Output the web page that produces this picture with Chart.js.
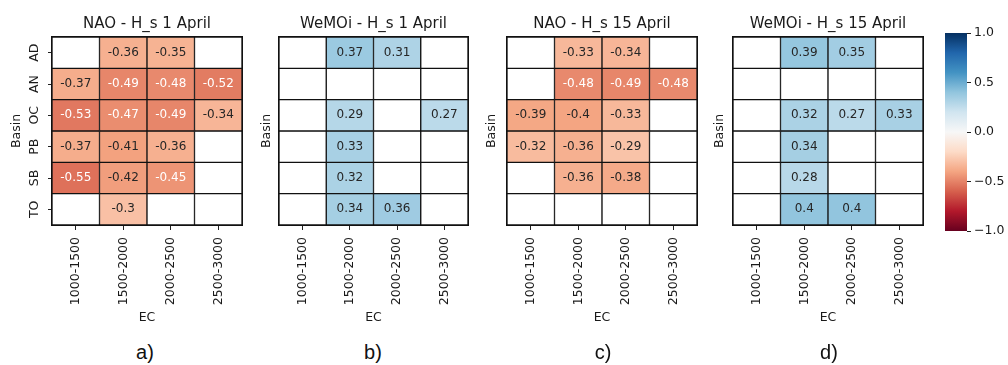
<!DOCTYPE html>
<html>
<head>
<meta charset="utf-8">
<script src="https://cdn.jsdelivr.net/npm/chart.js@4.4.1/dist/chart.umd.min.js"></script>
<style>
  body { margin: 0; background: #fff; width: 1008px; height: 365px; position: relative; overflow: hidden; }
  canvas { position: absolute; top: 0; }
  .tag { position: absolute; top: 341px; font: 20px "Liberation Sans", Arial, sans-serif; line-height: 22px; color: #111; transform: translateX(-50%); }
</style>
</head>
<body>
<canvas id="pa" width="250" height="330" style="left:0px"></canvas>
<canvas id="pb" width="226" height="330" style="left:250px"></canvas>
<canvas id="pc" width="230" height="330" style="left:475px"></canvas>
<canvas id="pd" width="228" height="330" style="left:703px"></canvas>
<canvas id="cb" width="73" height="330" style="left:935px"></canvas>
<div class="tag" style="left:145px">a)</div>
<div class="tag" style="left:373px">b)</div>
<div class="tag" style="left:603px">c)</div>
<div class="tag" style="left:829px">d)</div>
<script>
const basins = ['AD', 'AN', 'OC', 'PB', 'SB', 'TO'];
const ecBands = ['1000-1500', '1500-2000', '2000-2500', '2500-3000'];

// correlations, rows = basins, cols = EC bands (null = blank cell)
const naoApr1 = [
  [null, -0.36, -0.35, null],
  [-0.37, -0.49, -0.48, -0.52],
  [-0.53, -0.47, -0.49, -0.34],
  [-0.37, -0.41, -0.36, null],
  [-0.55, -0.42, -0.45, null],
  [null, -0.3, null, null]
];
const wemoiApr1 = [
  [null, 0.37, 0.31, null],
  [null, null, null, null],
  [null, 0.29, null, 0.27],
  [null, 0.33, null, null],
  [null, 0.32, null, null],
  [null, 0.34, 0.36, null]
];
const naoApr15 = [
  [null, -0.33, -0.34, null],
  [null, -0.48, -0.49, -0.48],
  [-0.39, -0.4, -0.33, null],
  [-0.32, -0.36, -0.29, null],
  [null, -0.36, -0.38, null],
  [null, null, null, null]
];
const wemoiApr15 = [
  [null, 0.39, 0.35, null],
  [null, null, null, null],
  [null, 0.32, 0.27, 0.33],
  [null, 0.34, null, null],
  [null, 0.28, null, null],
  [null, 0.4, 0.4, null]
];
const cbarTicks = [-1, -0.5, 0, 0.5, 1];

// RdBu stops, low end red
const rdbu = [[103,0,31],[178,24,43],[214,96,77],[244,165,130],[253,219,199],[247,247,247],
              [209,229,240],[146,197,222],[67,147,195],[33,102,172],[5,48,97]];

function cmap(v) {
  const t = Math.min(Math.max((v + 1) / 2, 0), 1) * (rdbu.length - 1);
  const i = Math.min(Math.floor(t), rdbu.length - 2);
  const f = t - i;
  return rdbu[i].map((c, k) => Math.round(c + (rdbu[i + 1][k] - c) * f));
}
const rgb = c => `rgb(${c[0]},${c[1]},${c[2]})`;
function lum(c) {
  const l = c.map(x => { x /= 255; return x <= 0.03928 ? x / 12.92 : Math.pow((x + 0.055) / 1.055, 2.4); });
  return 0.2126 * l[0] + 0.7152 * l[1] + 0.0722 * l[2];
}

const FONT = 'DejaVu Sans';
const INK = '#1a1a1a';
const EDGE = '#111';
Chart.defaults.font.family = FONT;
Chart.defaults.font.size = 12.5;
Chart.defaults.color = INK;

// writes the value in the middle of every filled cell
const cellLabels = {
  id: 'cellLabels',
  afterDatasetsDraw(chart, args, opts) {
    const ctx = chart.ctx;
    ctx.save();
    ctx.font = `12px "${FONT}"`;
    ctx.textAlign = 'center';
    ctx.textBaseline = 'middle';
    chart.data.datasets.forEach((ds, r) => {
      chart.getDatasetMeta(r).data.forEach((bar, c) => {
        const v = opts.values[r][c];
        if (v === null) return;
        ctx.fillStyle = lum(cmap(v)) > 0.408 ? '#262626' : '#ffffff';
        ctx.fillText(String(v), bar.x, (bar.y + bar.base) / 2);
      });
    });
    ctx.restore();
  }
};

// bare axis that only contributes a frame line on one side
const frameAxis = (position, axis) => ({
  type: 'linear', position, axis,
  grid: { display: false },
  ticks: { display: false },
  border: { display: true, color: EDGE, width: 2 },
  afterFit: s => { if (axis === 'x') s.height = 0; else s.width = 0; }
});

function heatmap(id, title, vals, yWidth, basinTicks) {
  new Chart(document.getElementById(id), {
    type: 'bar',
    data: {
      labels: ecBands,
      datasets: basins.map((b, r) => ({
        label: b,
        data: ecBands.map(() => [r, r + 1]),
        backgroundColor: vals[r].map(v => v === null ? '#ffffff' : rgb(cmap(v))),
        borderColor: EDGE,
        borderWidth: 1,
        borderSkipped: false,
        grouped: false,
        barPercentage: 1,
        categoryPercentage: 1
      }))
    },
    options: {
      responsive: false,
      animation: false,
      layout: { padding: { right: 8 } },
      plugins: {
        legend: { display: false },
        tooltip: { enabled: false },
        title: {
          display: true, text: title, fullSize: false, color: INK,
          font: { size: 15, weight: 'normal' }, padding: { top: 15, bottom: 4 }
        },
        cellLabels: { values: vals }
      },
      scales: {
        x: {
          offset: true,
          grid: { offset: false, drawOnChartArea: false, tickLength: 5, color: '#222' },
          border: { display: true, color: EDGE, width: 2 },
          ticks: { minRotation: 90, maxRotation: 90, padding: 7 },
          title: { display: true, text: 'EC', padding: { top: 0, bottom: 5 } },
          afterFit: s => { s.height = 105; }
        },
        y: {
          type: 'linear', min: 0, max: 6, reverse: true,
          afterBuildTicks: s => { s.ticks = basins.map((b, i) => ({ value: i + 0.5 })); },
          ticks: {
            display: basinTicks, minRotation: 90, maxRotation: 90, crossAlign: 'center', padding: 4,
            callback: (v, i) => basins[i]
          },
          grid: { display: basinTicks, drawOnChartArea: false, tickLength: 4, color: '#222' },
          border: { display: true, color: EDGE, width: 2 },
          title: { display: true, text: 'Basin', padding: { top: 9 } },
          afterFit: s => { s.width = yWidth; }
        },
        frameTop: frameAxis('top', 'x'),
        frameRight: frameAxis('right', 'y')
      }
    },
    plugins: [cellLabels]
  });
}

heatmap('pa', 'NAO - H_s 1 April', naoApr1, 52, true);
heatmap('pb', 'WeMOi - H_s 1 April', wemoiApr1, 29, false);
heatmap('pc', 'NAO - H_s 15 April', naoApr15, 32, false);
heatmap('pd', 'WeMOi - H_s 15 April', wemoiApr15, 30, false);

// colour bar
new Chart(document.getElementById('cb'), {
  type: 'bar',
  data: {
    labels: [''],
    datasets: [{
      data: [[cbarTicks[0], cbarTicks[cbarTicks.length - 1]]],
      backgroundColor: ctx => {
        const a = ctx.chart.chartArea;
        if (!a) return null;
        const g = ctx.chart.ctx.createLinearGradient(0, a.bottom, 0, a.top);
        rdbu.forEach((c, i) => g.addColorStop(i / (rdbu.length - 1), rgb(c)));
        return g;
      },
      borderWidth: 0,
      barPercentage: 1,
      categoryPercentage: 1
    }]
  },
  options: {
    responsive: false,
    animation: false,
    layout: { padding: { top: 33, bottom: 99, left: 10 } },
    plugins: { legend: { display: false }, tooltip: { enabled: false } },
    scales: {
      x: { display: false },
      y: {
        position: 'right', min: -1, max: 1,
        afterBuildTicks: s => { s.ticks = cbarTicks.map(v => ({ value: v })); },
        ticks: { padding: 3, callback: v => v.toFixed(1).replace('-', '\u2212') },
        grid: { drawOnChartArea: false, tickLength: 4, color: '#222' },
        border: { display: false },
        afterFit: s => { s.width = 41; }
      }
    }
  }
});
</script>
</body>
</html>
